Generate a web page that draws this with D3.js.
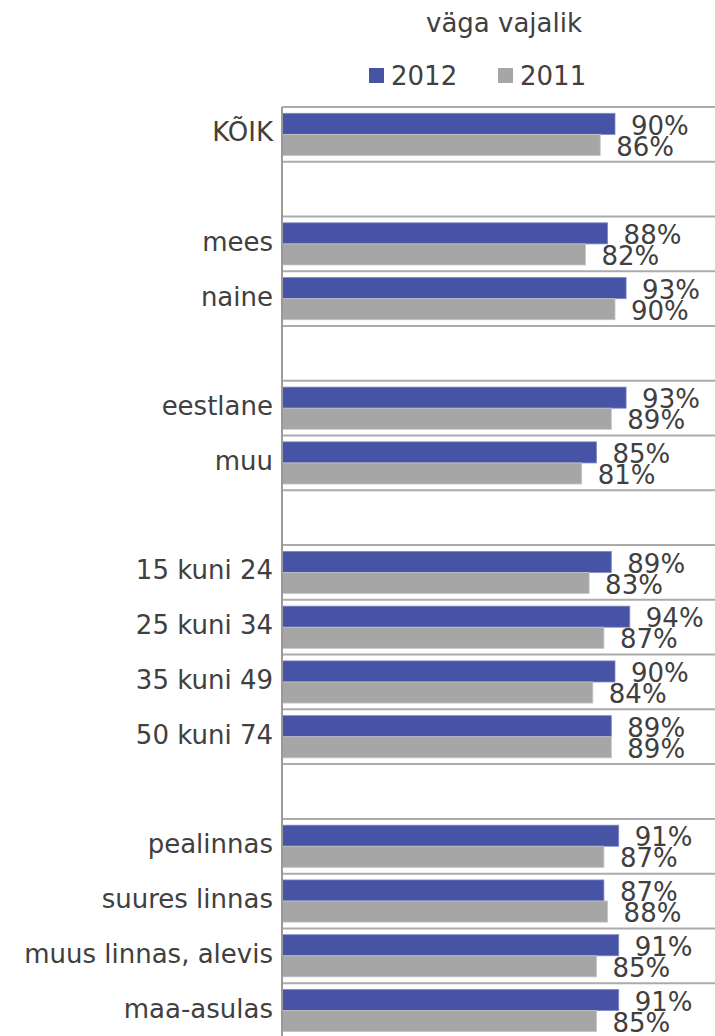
<!DOCTYPE html>
<html>
<head>
<meta charset="utf-8">
<script src="https://cdn.jsdelivr.net/npm/d3@7"></script>
<style>
  html, body { margin: 0; padding: 0; background: #fff; }
  svg { display: block; }
  text { font-family: "DejaVu Sans", Verdana, sans-serif; fill: #404040; }
</style>
</head>
<body>
<svg id="chart" width="715" height="1036"></svg>
<script>
// ---- data ----
const title = "väga vajalik";
const seriesNames = ["2012", "2011"];
const categories = ["KÕIK", "_b1", "mees", "naine", "_b2", "eestlane", "muu", "_b3",
  "15 kuni 24", "25 kuni 34", "35 kuni 49", "50 kuni 74", "_b4",
  "pealinnas", "suures linnas", "muus linnas, alevis", "maa-asulas"];
const values2012 = [0.90, null, 0.88, 0.93, null, 0.93, 0.85, null,
  0.89, 0.94, 0.90, 0.89, null, 0.91, 0.87, 0.91, 0.91];
const values2011 = [0.86, null, 0.82, 0.90, null, 0.89, 0.81, null,
  0.83, 0.87, 0.84, 0.89, null, 0.87, 0.88, 0.85, 0.85];
const colors = ["#4753A4", "#A6A6A6"];

// ---- layout ----
const svg = d3.select("#chart");
const plotLeft = 282, plotTop = 107, rowH = 54.76;
const plotBottom = plotTop + rowH * categories.length;
const plotRight = 715;

const x = d3.scaleLinear().domain([0, 1]).range([plotLeft, plotLeft + 370]);
const y = d3.scaleBand().domain(categories).range([plotTop, plotBottom]).padding(0);
const inner = d3.scaleBand().domain(seriesNames).range([6.3, y.bandwidth() - 6.3]).padding(0);

// title
svg.append("text").attr("x", 504).attr("y", 32).attr("text-anchor", "middle")
  .style("font-size", "26px").text(title);

// legend
const legendX = [369, 498];
seriesNames.forEach((s, i) => {
  svg.append("rect").attr("x", legendX[i]).attr("y", 68).attr("width", 15).attr("height", 15)
    .attr("fill", colors[i]);
  svg.append("text").attr("x", legendX[i] + 22).attr("y", 85)
    .style("font-size", "26px").text(s);
});

// gridlines at band boundaries
const bounds = categories.map(c => y(c)).concat([plotBottom]);
svg.append("g").selectAll("line").data(bounds).join("line")
  .attr("x1", plotLeft).attr("x2", plotRight)
  .attr("y1", d => d).attr("y2", d => d)
  .attr("stroke", "#ABABAB").attr("stroke-width", 2);

// bars
const rows = categories.map((c, i) => ({ c, v: [values2012[i], values2011[i]] }))
  .filter(d => d.v[0] != null);

const g = svg.append("g").selectAll("g").data(rows).join("g")
  .attr("transform", d => `translate(0,${y(d.c)})`);

seriesNames.forEach((s, si) => {
  g.append("rect")
    .attr("x", plotLeft)
    .attr("y", inner(s))
    .attr("width", d => x(d.v[si]) - plotLeft)
    .attr("height", inner.bandwidth())
    .attr("fill", colors[si])
    .attr("stroke", si === 0 ? "#7F89C6" : "#C4C4C4")
    .attr("stroke-width", 0.8);
  g.append("text")
    .attr("x", d => x(d.v[si]) + 16)
    .attr("y", inner(s) + inner.bandwidth() / 2)
    .attr("dy", "0.41em")
    .style("font-size", "26px")
    .text(d => d3.format(".0%")(d.v[si]));
});

// category labels
svg.append("g").selectAll("text").data(rows).join("text")
  .attr("x", plotLeft - 9)
  .attr("y", d => y(d.c) + y.bandwidth() / 2)
  .attr("dy", "0.27em")
  .attr("text-anchor", "end")
  .style("font-size", "26px")
  .text(d => d.c);

// axis line
svg.append("line").attr("x1", plotLeft).attr("x2", plotLeft).attr("y1", plotTop).attr("y2", plotBottom)
  .attr("stroke", "#9A9A9A").attr("stroke-width", 2);
</script>
</body>
</html>
